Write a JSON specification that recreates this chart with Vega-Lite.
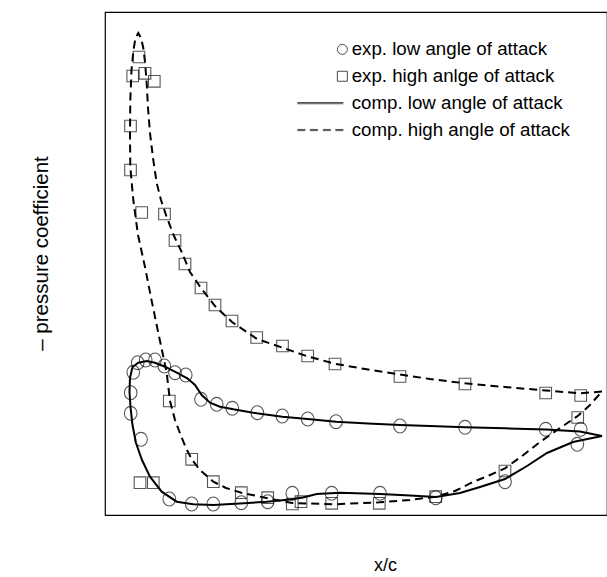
{
  "$schema": "https://vega.github.io/schema/vega-lite/v6.json",
  "width": 502,
  "height": 503,
  "autosize": {"type": "none"},
  "padding": {"left": 105, "top": 12, "right": 0, "bottom": 62},
  "background": "white",
  "config": {
    "view": {"stroke": "#000", "strokeWidth": 1.2},
    "font": "Liberation Sans"
  },
  "datasets": {
    "lines": [
      {"c": "low", "i": 1, "x": 602, "y": 436},
      {"c": "low", "i": 2, "x": 580, "y": 431.5},
      {"c": "low", "i": 3, "x": 546, "y": 429.5},
      {"c": "low", "i": 4, "x": 505, "y": 428.3},
      {"c": "low", "i": 5, "x": 465, "y": 427.3},
      {"c": "low", "i": 6, "x": 430, "y": 426},
      {"c": "low", "i": 7, "x": 400, "y": 425},
      {"c": "low", "i": 8, "x": 368, "y": 423.5},
      {"c": "low", "i": 9, "x": 336, "y": 421.7},
      {"c": "low", "i": 10, "x": 307.7, "y": 419},
      {"c": "low", "i": 11, "x": 282.3, "y": 416.7},
      {"c": "low", "i": 12, "x": 256.7, "y": 413.3},
      {"c": "low", "i": 13, "x": 233.3, "y": 409.3},
      {"c": "low", "i": 14, "x": 220, "y": 406.7},
      {"c": "low", "i": 15, "x": 210, "y": 402.7},
      {"c": "low", "i": 16, "x": 201.7, "y": 395},
      {"c": "low", "i": 17, "x": 195, "y": 385},
      {"c": "low", "i": 18, "x": 187.3, "y": 378.3},
      {"c": "low", "i": 19, "x": 176.7, "y": 372.7},
      {"c": "low", "i": 20, "x": 165, "y": 366.7},
      {"c": "low", "i": 21, "x": 155, "y": 362.7},
      {"c": "low", "i": 22, "x": 146.7, "y": 361},
      {"c": "low", "i": 23, "x": 138.3, "y": 362.7},
      {"c": "low", "i": 24, "x": 132.5, "y": 367},
      {"c": "low", "i": 25, "x": 130, "y": 378},
      {"c": "low", "i": 26, "x": 129.5, "y": 392},
      {"c": "low", "i": 27, "x": 130.5, "y": 407},
      {"c": "low", "i": 28, "x": 132.5, "y": 425},
      {"c": "low", "i": 29, "x": 136, "y": 443},
      {"c": "low", "i": 30, "x": 142, "y": 460},
      {"c": "low", "i": 31, "x": 150, "y": 476.7},
      {"c": "low", "i": 32, "x": 161.7, "y": 491.7},
      {"c": "low", "i": 33, "x": 176.7, "y": 501.7},
      {"c": "low", "i": 34, "x": 193.3, "y": 504.3},
      {"c": "low", "i": 35, "x": 213.3, "y": 505},
      {"c": "low", "i": 36, "x": 240, "y": 503.5},
      {"c": "low", "i": 37, "x": 266.7, "y": 501.7},
      {"c": "low", "i": 38, "x": 290, "y": 499.5},
      {"c": "low", "i": 39, "x": 303, "y": 497.5},
      {"c": "low", "i": 40, "x": 316.7, "y": 494},
      {"c": "low", "i": 41, "x": 340, "y": 492.7},
      {"c": "low", "i": 42, "x": 380, "y": 494},
      {"c": "low", "i": 43, "x": 410, "y": 495.5},
      {"c": "low", "i": 44, "x": 436, "y": 497},
      {"c": "low", "i": 45, "x": 460, "y": 493},
      {"c": "low", "i": 46, "x": 480, "y": 487},
      {"c": "low", "i": 47, "x": 505, "y": 479},
      {"c": "low", "i": 48, "x": 527, "y": 466},
      {"c": "low", "i": 49, "x": 547, "y": 453},
      {"c": "low", "i": 50, "x": 573, "y": 442},
      {"c": "low", "i": 51, "x": 602, "y": 436},
      {"c": "high", "i": 1, "x": 602, "y": 391.5},
      {"c": "high", "i": 2, "x": 580, "y": 393.3},
      {"c": "high", "i": 3, "x": 546, "y": 390.5},
      {"c": "high", "i": 4, "x": 505, "y": 387},
      {"c": "high", "i": 5, "x": 465, "y": 383.3},
      {"c": "high", "i": 6, "x": 430, "y": 379},
      {"c": "high", "i": 7, "x": 400, "y": 374.5},
      {"c": "high", "i": 8, "x": 365, "y": 369},
      {"c": "high", "i": 9, "x": 336, "y": 364},
      {"c": "high", "i": 10, "x": 308, "y": 356.5},
      {"c": "high", "i": 11, "x": 282, "y": 347.5},
      {"c": "high", "i": 12, "x": 257, "y": 339},
      {"c": "high", "i": 13, "x": 232, "y": 322},
      {"c": "high", "i": 14, "x": 215, "y": 306},
      {"c": "high", "i": 15, "x": 201, "y": 288},
      {"c": "high", "i": 16, "x": 190, "y": 272},
      {"c": "high", "i": 17, "x": 181.7, "y": 252},
      {"c": "high", "i": 18, "x": 174, "y": 236},
      {"c": "high", "i": 19, "x": 166.7, "y": 217},
      {"c": "high", "i": 20, "x": 161, "y": 200},
      {"c": "high", "i": 21, "x": 156.7, "y": 183},
      {"c": "high", "i": 22, "x": 153, "y": 158},
      {"c": "high", "i": 23, "x": 150, "y": 133},
      {"c": "high", "i": 24, "x": 148, "y": 108},
      {"c": "high", "i": 25, "x": 146.7, "y": 83},
      {"c": "high", "i": 26, "x": 145, "y": 62},
      {"c": "high", "i": 27, "x": 143.3, "y": 48},
      {"c": "high", "i": 28, "x": 141, "y": 38},
      {"c": "high", "i": 29, "x": 138.3, "y": 33},
      {"c": "high", "i": 30, "x": 135.5, "y": 38},
      {"c": "high", "i": 31, "x": 133.5, "y": 50},
      {"c": "high", "i": 32, "x": 131.5, "y": 70},
      {"c": "high", "i": 33, "x": 130.3, "y": 100},
      {"c": "high", "i": 34, "x": 130, "y": 135},
      {"c": "high", "i": 35, "x": 130.3, "y": 167},
      {"c": "high", "i": 36, "x": 133.3, "y": 200},
      {"c": "high", "i": 37, "x": 138, "y": 235},
      {"c": "high", "i": 38, "x": 145, "y": 267},
      {"c": "high", "i": 39, "x": 151.5, "y": 300},
      {"c": "high", "i": 40, "x": 158.3, "y": 333},
      {"c": "high", "i": 41, "x": 163, "y": 355},
      {"c": "high", "i": 42, "x": 166.7, "y": 373},
      {"c": "high", "i": 43, "x": 170, "y": 401},
      {"c": "high", "i": 44, "x": 175, "y": 420},
      {"c": "high", "i": 45, "x": 180, "y": 433.3},
      {"c": "high", "i": 46, "x": 186, "y": 448},
      {"c": "high", "i": 47, "x": 191.7, "y": 459.3},
      {"c": "high", "i": 48, "x": 200, "y": 470},
      {"c": "high", "i": 49, "x": 213.3, "y": 481.7},
      {"c": "high", "i": 50, "x": 226, "y": 488},
      {"c": "high", "i": 51, "x": 241.3, "y": 492.7},
      {"c": "high", "i": 52, "x": 267.7, "y": 498.3},
      {"c": "high", "i": 53, "x": 292.3, "y": 503},
      {"c": "high", "i": 54, "x": 333.3, "y": 504.3},
      {"c": "high", "i": 55, "x": 380, "y": 502.3},
      {"c": "high", "i": 56, "x": 410, "y": 500},
      {"c": "high", "i": 57, "x": 435.7, "y": 496.7},
      {"c": "high", "i": 58, "x": 455, "y": 491},
      {"c": "high", "i": 59, "x": 473, "y": 482},
      {"c": "high", "i": 60, "x": 490, "y": 475},
      {"c": "high", "i": 61, "x": 505, "y": 468.3},
      {"c": "high", "i": 62, "x": 522, "y": 456},
      {"c": "high", "i": 63, "x": 540, "y": 442},
      {"c": "high", "i": 64, "x": 560, "y": 428},
      {"c": "high", "i": 65, "x": 577.7, "y": 416},
      {"c": "high", "i": 66, "x": 590, "y": 405},
      {"c": "high", "i": 67, "x": 601.7, "y": 391.7}
    ],
    "circles": [
      {"x": 137.7, "y": 362.7}, {"x": 145.7, "y": 360}, {"x": 155, "y": 360},
      {"x": 164.3, "y": 366}, {"x": 175, "y": 372.7}, {"x": 185.7, "y": 375},
      {"x": 133.3, "y": 372.3}, {"x": 130.7, "y": 392.7}, {"x": 130.7, "y": 413.3},
      {"x": 141, "y": 439.3}, {"x": 201, "y": 399.3}, {"x": 216.7, "y": 404.3},
      {"x": 232.3, "y": 408.3}, {"x": 257.3, "y": 412.7}, {"x": 282.3, "y": 416},
      {"x": 307.7, "y": 419}, {"x": 336, "y": 421.7}, {"x": 400, "y": 426},
      {"x": 465, "y": 427.3}, {"x": 545.7, "y": 429.3}, {"x": 580.7, "y": 429.3},
      {"x": 577.3, "y": 444.3}, {"x": 505, "y": 481.7}, {"x": 435.7, "y": 497.7},
      {"x": 380, "y": 493.3}, {"x": 331.7, "y": 493.3}, {"x": 292.3, "y": 493.3},
      {"x": 267.7, "y": 501.7}, {"x": 241.3, "y": 502.7}, {"x": 213.3, "y": 504},
      {"x": 191.7, "y": 504}, {"x": 169.3, "y": 499}
    ],
    "squares": [
      {"x": 139, "y": 57}, {"x": 132.7, "y": 76}, {"x": 145, "y": 73.3},
      {"x": 154.3, "y": 81.3}, {"x": 130.5, "y": 126}, {"x": 130.5, "y": 170},
      {"x": 141.7, "y": 212.5}, {"x": 164.5, "y": 214}, {"x": 175, "y": 240.5},
      {"x": 185, "y": 264}, {"x": 201, "y": 288}, {"x": 215, "y": 305},
      {"x": 232, "y": 321}, {"x": 256.7, "y": 337.5}, {"x": 282.5, "y": 346},
      {"x": 307.7, "y": 356}, {"x": 335, "y": 364}, {"x": 400, "y": 376.5},
      {"x": 465, "y": 384}, {"x": 545.7, "y": 393}, {"x": 580.7, "y": 395.5},
      {"x": 577.7, "y": 417.5}, {"x": 505, "y": 471}, {"x": 435.7, "y": 496.7},
      {"x": 379.3, "y": 503.3}, {"x": 331.7, "y": 503.3}, {"x": 301, "y": 501.7},
      {"x": 292.3, "y": 504}, {"x": 267.7, "y": 497.7}, {"x": 241.3, "y": 492.7},
      {"x": 213.3, "y": 481.7}, {"x": 191.7, "y": 459.3}, {"x": 169.3, "y": 401},
      {"x": 153.3, "y": 482.7}, {"x": 140, "y": 482.7}
    ],
    "legend": [
      {"series": "exp. low angle of attack", "x": 0, "y": 0},
      {"series": "exp. high anlge of attack", "x": 0, "y": 0},
      {"series": "comp. low angle of attack", "x": 0, "y": 0},
      {"series": "comp. high angle of attack", "x": 0, "y": 0}
    ]
  },
  "layer": [
    {
      "data": {"name": "lines"},
      "transform": [{"filter": "datum.c === 'low'"}],
      "mark": {"type": "line", "color": "#000", "strokeWidth": 2},
      "encoding": {
        "x": {
          "field": "x", "type": "quantitative",
          "scale": {"domain": [105, 607], "nice": false, "zero": false},
          "axis": {
            "title": "x/c", "labels": false, "ticks": false, "domain": false, "grid": false,
            "titleFontSize": 18, "titleFontWeight": "normal", "titleColor": "#000",
            "titleFont": "Liberation Sans",
            "titleX": 280, "titleY": 50, "titleAlign": "center", "titleBaseline": "middle"
          }
        },
        "y": {
          "field": "y", "type": "quantitative",
          "scale": {"domain": [12, 515], "reverse": true, "nice": false, "zero": false},
          "axis": {
            "title": "– pressure coefficient", "labels": false, "ticks": false, "domain": false, "grid": false,
            "titleFontSize": 20.5, "titleFontWeight": "normal", "titleColor": "#000",
            "titleFont": "Liberation Sans",
            "titleX": -64, "titleY": 241, "titleAlign": "center", "titleBaseline": "middle", "titleAngle": 270
          }
        },
        "order": {"field": "i", "type": "quantitative"}
      }
    },
    {
      "data": {"name": "lines"},
      "transform": [{"filter": "datum.c === 'high'"}],
      "mark": {"type": "line", "color": "#000", "strokeWidth": 2, "strokeDash": [8, 5]},
      "encoding": {
        "x": {"field": "x", "type": "quantitative"},
        "y": {"field": "y", "type": "quantitative"},
        "order": {"field": "i", "type": "quantitative"}
      }
    },
    {
      "data": {"name": "circles"},
      "mark": {"type": "point", "filled": false, "stroke": "#111", "strokeWidth": 1.1, "size": 160,
               "shape": "M-1,0A1,1.1 0 1,0 1,0A1,1.1 0 1,0 -1,0"},
      "encoding": {
        "x": {"field": "x", "type": "quantitative"},
        "y": {"field": "y", "type": "quantitative"}
      }
    },
    {
      "data": {"name": "squares"},
      "mark": {"type": "point", "filled": false, "stroke": "#111", "strokeWidth": 1.1, "size": 135, "shape": "square"},
      "encoding": {
        "x": {"field": "x", "type": "quantitative"},
        "y": {"field": "y", "type": "quantitative"}
      }
    },
    {
      "data": {"name": "legend"},
      "mark": {"type": "point", "filled": false, "color": "#000", "clip": true},
      "encoding": {
        "x": {"field": "x", "type": "quantitative"},
        "y": {"field": "y", "type": "quantitative"},
        "shape": {
          "field": "series", "type": "nominal",
          "scale": {
            "domain": ["exp. low angle of attack", "exp. high anlge of attack", "comp. low angle of attack", "comp. high angle of attack"],
            "range": [
              "M-1,0A1,1 0 1,0 1,0A1,1 0 1,0 -1,0",
              "M-1,-1H1V1H-1Z",
              "M-9,-0.12H0.2M-9,0.12H0.2",
              "M-9,-0.12H-7.4M-9,0.12H-7.4M-6.5,-0.12H-4.9M-6.5,0.12H-4.9M-3.9,-0.12H-2.3M-3.9,0.12H-2.3M-1.4,-0.12H0.2M-1.4,0.12H0.2"
            ]
          },
          "legend": {
            "title": null, "orient": "none", "legendX": 228, "legendY": 28, "padding": 0,
            "symbolSize": 100, "symbolStrokeColor": "#000", "symbolStrokeWidth": 1,
            "symbolFillColor": "transparent", "symbolType": "circle",
            "labelFontSize": 18.7, "labelFont": "Liberation Sans", "labelColor": "#000",
            "labelOffset": 0, "rowPadding": 6.9, "labelLimit": 0
          }
        }
      }
    }
  ]
}
